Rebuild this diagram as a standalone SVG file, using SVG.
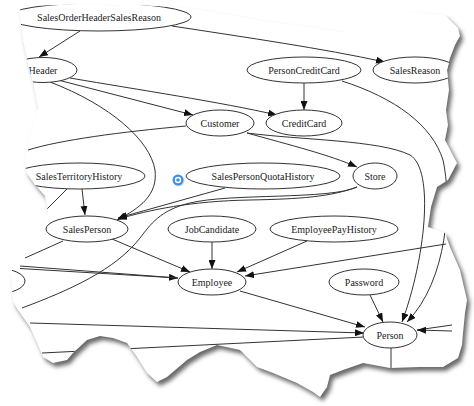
<svg xmlns="http://www.w3.org/2000/svg" width="474" height="406" viewBox="0 0 474 406">
<style>
  .n ellipse { fill: #fff; stroke: #333; stroke-width: 1; }
  .n text { font-family: "Liberation Serif", "Times New Roman", serif; font-size: 10px; fill: #222; text-anchor: middle; }
  #edges path { fill: none; stroke: #333; stroke-width: 1; }
  #edges path.a { marker-end: url(#arr); }
</style>
<defs>
  <marker id="arr" markerUnits="userSpaceOnUse" markerWidth="9" markerHeight="7" refX="9" refY="3.5" orient="auto">
    <path d="M0,0 L9,3.5 L0,7 z" fill="#111"/>
  </marker>
  <polygon id="paper" points="20,6 60,5 100,4 117,7 135,5 190,8 230,15 270,22 305,26 340,32 370,28 390,20 410,12 430,14 445,15 458,28 460,36 455,45 450,58 447,70 449,90 446,110 448,125 445,140 457,163 448,180 437,187 431,207 428,227 445,233 450,247 460,270 467,300 465,313 463,333 462,345 458,358 443,367 420,367 390,368 363,363 343,370 330,375 327,387 320,397 313,392 297,383 273,373 257,367 240,350 217,345 200,352 187,360 167,377 157,382 147,373 137,357 127,343 113,338 100,336 87,340 73,353 67,360 53,363 43,357 37,343 30,327 20,313 13,302 12,288 11,272 16,262 25,255 32,240 42,225 48,212 45,196 36,186 26,172 25,160 27,148 32,126 38,108 33,82 27,60 23,40 21,25"/>
  <clipPath id="clip"><use href="#paper"/></clipPath>
  <filter id="shadow" x="-10%" y="-10%" width="130%" height="130%">
    <feGaussianBlur stdDeviation="2.2"/>
  </filter>
</defs>
<rect width="474" height="406" fill="#fff"/>
<use href="#paper" fill="#6a6a6a" transform="translate(3,4)" filter="url(#shadow)"/>
<use href="#paper" fill="#fff"/>
<g clip-path="url(#clip)">
  <g id="edges">
    <path class="a" d="M80,31 L39,57"/>
    <path class="a" d="M172,26 C250,38 320,48 385,62"/>
    <path class="a" d="M58,80 L193,115"/>
    <path class="a" d="M70,78 C140,90 220,102 277,115"/>
    <path class="a" d="M50,82 C110,105 150,140 155,170 C158,195 140,208 117,220"/>
    <path class="a" d="M304,83 L304,110"/>
    <path class="a" d="M342,81 C395,98 432,125 443,160 C452,200 448,280 407,322"/>
    <path class="a" d="M247,133 C290,145 330,155 357,167"/>
    <path d="M186,126 C120,132 60,140 28,150"/>
    <path class="a" d="M247,133 C300,140 380,140 410,155 C435,170 425,260 402,322"/>
    <path class="a" d="M225,188 L118,218"/>
    <path class="a" d="M357,187 C330,197 300,199 250,200 C190,201 150,210 118,219"/>
    <path d="M357,187 C330,200 230,193 190,203 C160,210 150,225 140,238 C115,270 70,290 22,308"/>
    <path class="a" d="M82,189 L85,215"/>
    <path d="M67,189 L46,210"/>
    <path class="a" d="M112,239 L190,272"/>
    <path d="M63,241 L25,258"/>
    <path class="a" d="M20,266 L178,278"/>
    <path d="M20,268.5 L178,278"/>
    <path class="a" d="M212,242 L212,269"/>
    <path class="a" d="M307,241 L237,272"/>
    <path class="a" d="M446,244 L245,276"/>
    <path class="a" d="M240,291 L365,327"/>
    <path class="a" d="M370,295 L383,322"/>
    <path class="a" d="M30,323 L364,333"/>
    <path d="M364,337 L42,353"/>
    <path d="M452,325 L417,330"/>
    <path class="a" d="M452,331 L417,330"/>
    <path d="M391,348 L391,372"/>
  </g>
  <g id="node-SalesOrderHeaderSalesReason" class="n"><ellipse cx="99" cy="17" rx="92" ry="14"/><text x="99" y="20.5">SalesOrderHeaderSalesReason</text></g>
  <g id="node-Header" class="n"><ellipse cx="43" cy="70" rx="34" ry="12.5"/><text x="43" y="73.5">Header</text></g>
  <g id="node-PersonCreditCard" class="n"><ellipse cx="304" cy="70" rx="57" ry="13"/><text x="304" y="73.5">PersonCreditCard</text></g>
  <g id="node-SalesReason" class="n"><ellipse cx="415" cy="70" rx="42" ry="13"/><text x="415" y="73.5">SalesReason</text></g>
  <g id="node-Customer" class="n"><ellipse cx="220" cy="123" rx="34" ry="13"/><text x="220" y="126.5">Customer</text></g>
  <g id="node-CreditCard" class="n"><ellipse cx="304" cy="123" rx="38" ry="13"/><text x="304" y="126.5">CreditCard</text></g>
  <g id="node-SalesTerritoryHistory" class="n"><ellipse cx="79" cy="176" rx="66" ry="13"/><text x="79" y="179.5">SalesTerritoryHistory</text></g>
  <g id="node-SalesPersonQuotaHistory" class="n"><ellipse cx="263" cy="176" rx="77" ry="13"/><text x="263" y="179.5">SalesPersonQuotaHistory</text></g>
  <g id="node-Store" class="n"><ellipse cx="375" cy="176" rx="22" ry="13"/><text x="375" y="179.5">Store</text></g>
  <g id="node-SalesPerson" class="n"><ellipse cx="87" cy="229" rx="41" ry="13"/><text x="87" y="232.5">SalesPerson</text></g>
  <g id="node-JobCandidate" class="n"><ellipse cx="212" cy="229" rx="44" ry="13"/><text x="212" y="232.5">JobCandidate</text></g>
  <g id="node-EmployeePayHistory" class="n"><ellipse cx="334" cy="229" rx="64" ry="13"/><text x="334" y="232.5">EmployeePayHistory</text></g>
  <g id="node-Employee" class="n"><ellipse cx="212" cy="282" rx="34" ry="13"/><text x="212" y="285.5">Employee</text></g>
  <g id="node-Password" class="n"><ellipse cx="364" cy="282" rx="35" ry="13"/><text x="364" y="285.5">Password</text></g>
  <g id="node-Person" class="n"><ellipse cx="390" cy="335" rx="27" ry="13"/><text x="390" y="338.5">Person</text></g>
  <g id="node-left-partial" class="n"><ellipse cx="-5" cy="281" rx="30" ry="13"/></g>
  <g id="busy-icon">
    <circle cx="179" cy="181" r="5.5" fill="#9ab" opacity="0.35"/>
    <circle cx="178" cy="180" r="5.5" fill="#3f8fdc"/>
    <circle cx="178" cy="180" r="3.2" fill="#fff"/>
    <circle cx="178" cy="180" r="1.8" fill="#3f8fdc"/>
  </g>
</g>
</svg>
